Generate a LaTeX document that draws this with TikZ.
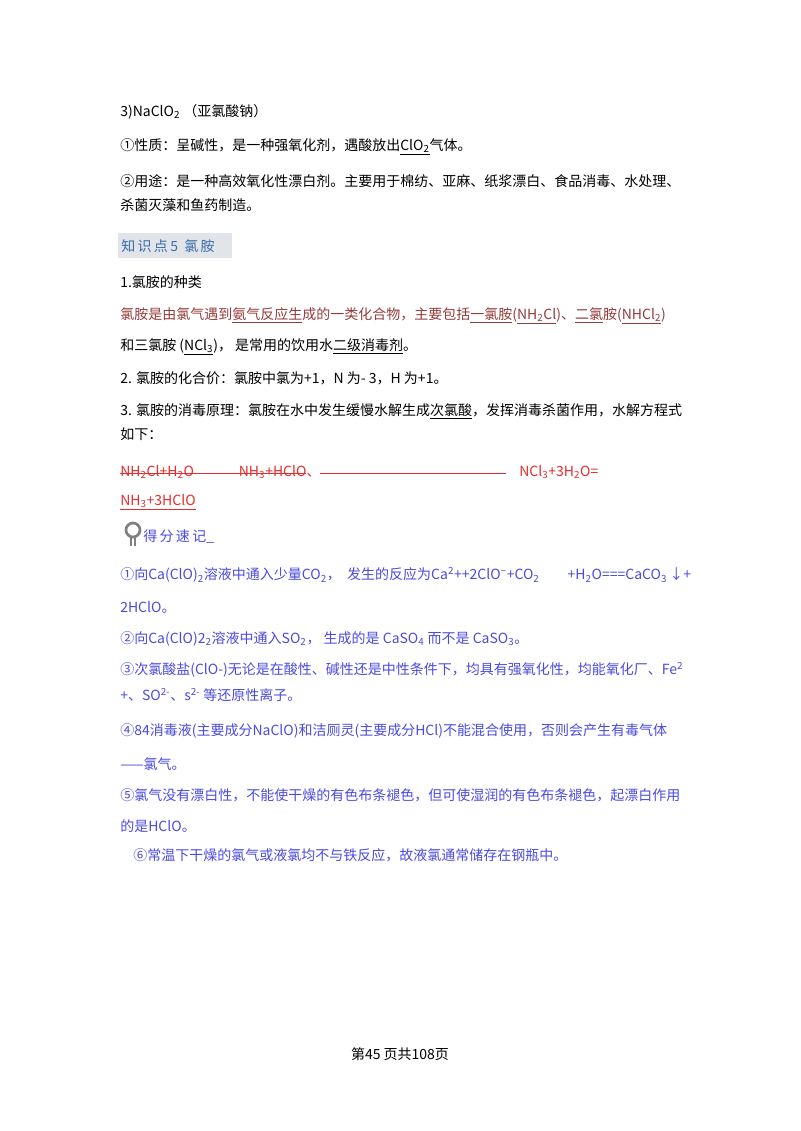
\documentclass[tikz,border=0pt]{standalone}
\usepackage{fontspec}
\setmainfont{Liberation Serif}
\newfontfamily\cjk{Noto Sans CJK SC}
\definecolor{tblue}{RGB}{75,75,225}
\definecolor{tbrown}{RGB}{150,60,60}
\definecolor{tred}{RGB}{230,45,45}
\definecolor{hdblue}{RGB}{60,110,170}
\definecolor{hdbg}{RGB}{225,228,232}
\tikzset{t/.style={anchor=west,inner sep=0pt,font=\cjk\fontsize{10.5}{12}\selectfont},
 ul/.style={line width=0.6pt}}
\newcommand{\su}[1]{\textsubscript{#1}}
\newcommand{\spx}[1]{\textsuperscript{#1}}
\begin{document}
\begin{tikzpicture}[x=0.75pt,y=-0.75pt]
\useasboundingbox[fill=white] (0,0) rectangle (800,1131);
\node[t] (l1) at (120,112) {3)NaClO\su{2} （亚氯酸钠）};
\node[t] (l2) at (120,147) {①性质：呈碱性，是一种强氧化剂，遇酸放出\underline{ClO\su{2}}气体。};
\node[t] (l3) at (120,181) {②用途：是一种高效氧化性漂白剂。主要用于棉纺、亚麻、纸浆漂白、食品消毒、水处理、};
\node[t] (l4) at (120,205) {杀菌灭藻和鱼药制造。};
\fill[hdbg] (118,233) rectangle (232,258);
\node[t,text=hdblue] (hd) at (121,246) {知\,识\,点\,5\ \ 氯\,胺};
\node[t] (k1) at (120,282) {1.氯胺的种类};
\node[t,text=tbrown] (k2) at (120,316) {氯胺是由氯气遇到\underline{氨气反应生}成的一类化合物，主要包括\underline{一氯胺}(\underline{NH\su{2}Cl})、\underline{二氯}胺(\underline{NHCl\su{2}})};
\node[t] (k3) at (120,347) {和三氯胺 (\underline{NCl\su{3}})， 是常用的饮用水\underline{二级消毒剂}。};
\node[t] (k4) at (120,378) {2. 氯胺的化合价：氯胺中氯为+1，N 为- 3，H 为+1。};
\node[t] (k5) at (120,411) {3. 氯胺的消毒原理：氯胺在水中发生缓慢水解生成\underline{次氯酸}，发挥消毒杀菌作用，水解方程式};
\node[t] (k6) at (120,434) {如下：};
\node[t,text=tred] (e1) at (120,472) {NH\su{2}Cl+H\su{2}O\hspace{3.2em}NH\su{3}+HClO、};
\draw[tred,ul] (e1.west) ++(0,1) -- ++(186,0);
\coordinate (ls) at (320,473);
\coordinate (le) at (506,473);
\draw[tred,ul] (ls) -- (le);
\node[t,text=tred] (e2) at (519,472) {NCl\su{3}+3H\su{2}O=};
\node[t,text=tred] (e3) at (120,502) {\underline{NH\su{3}+3HClO}};
\draw[gray,line width=2pt] (133,530) circle (7);
\draw[gray,line width=1.2pt] (131,538) -- (131,546) (135,538) -- (135,546);
\node[t,text=tblue] (sj) at (143,537) {得\,分\,速\,记\_};
\begin{scope}[every node/.append style={text=tblue}]
\node[t] (b1) at (120,575) {①向Ca(ClO)\su{2}溶液中通入少量CO\su{2}，\ \ 发生的反应为Ca\spx{2}++2ClO\spx{−}+CO\su{2}\hspace{2em}+H\su{2}O===CaCO\su{3}\,↓+};
\node[t] (b2) at (120,607) {2HClO。};
\node[t] (b3) at (120,639) {②向Ca(ClO)2\su{2}溶液中通入SO\su{2}，\ 生成的是 CaSO\su{4}\ 而不是 CaSO\su{3}。};
\node[t] (b4) at (120,670) {③次氯酸盐(ClO-)无论是在酸性、碱性还是中性条件下，均具有强氧化性，均能氧化厂、Fe\spx{2}};
\node[t] (b5) at (120,695) {+、SO\spx{2-}、s\spx{2-}\ 等还原性离子。};
\node[t] (b6) at (120,731) {④84消毒液(主要成分NaClO)和洁厕灵(主要成分HCl)不能混合使用，否则会产生有毒气体};
\node[t] (b7) at (120,764) {——氯气。};
\node[t] (b8) at (120,795) {⑤氯气没有漂白性，不能使干燥的有色布条褪色，但可使湿润的有色布条褪色，起漂白作用};
\node[t] (b9) at (120,826) {的是HClO。};
\node[t] (b10) at (133,855) {⑥常温下干燥的氯气或液氯均不与铁反应，故液氯通常储存在钢瓶中。};
\end{scope}
\node[t,anchor=center] (ft) at (400,1054) {第45 页共108页};
\end{tikzpicture}
\end{document}
